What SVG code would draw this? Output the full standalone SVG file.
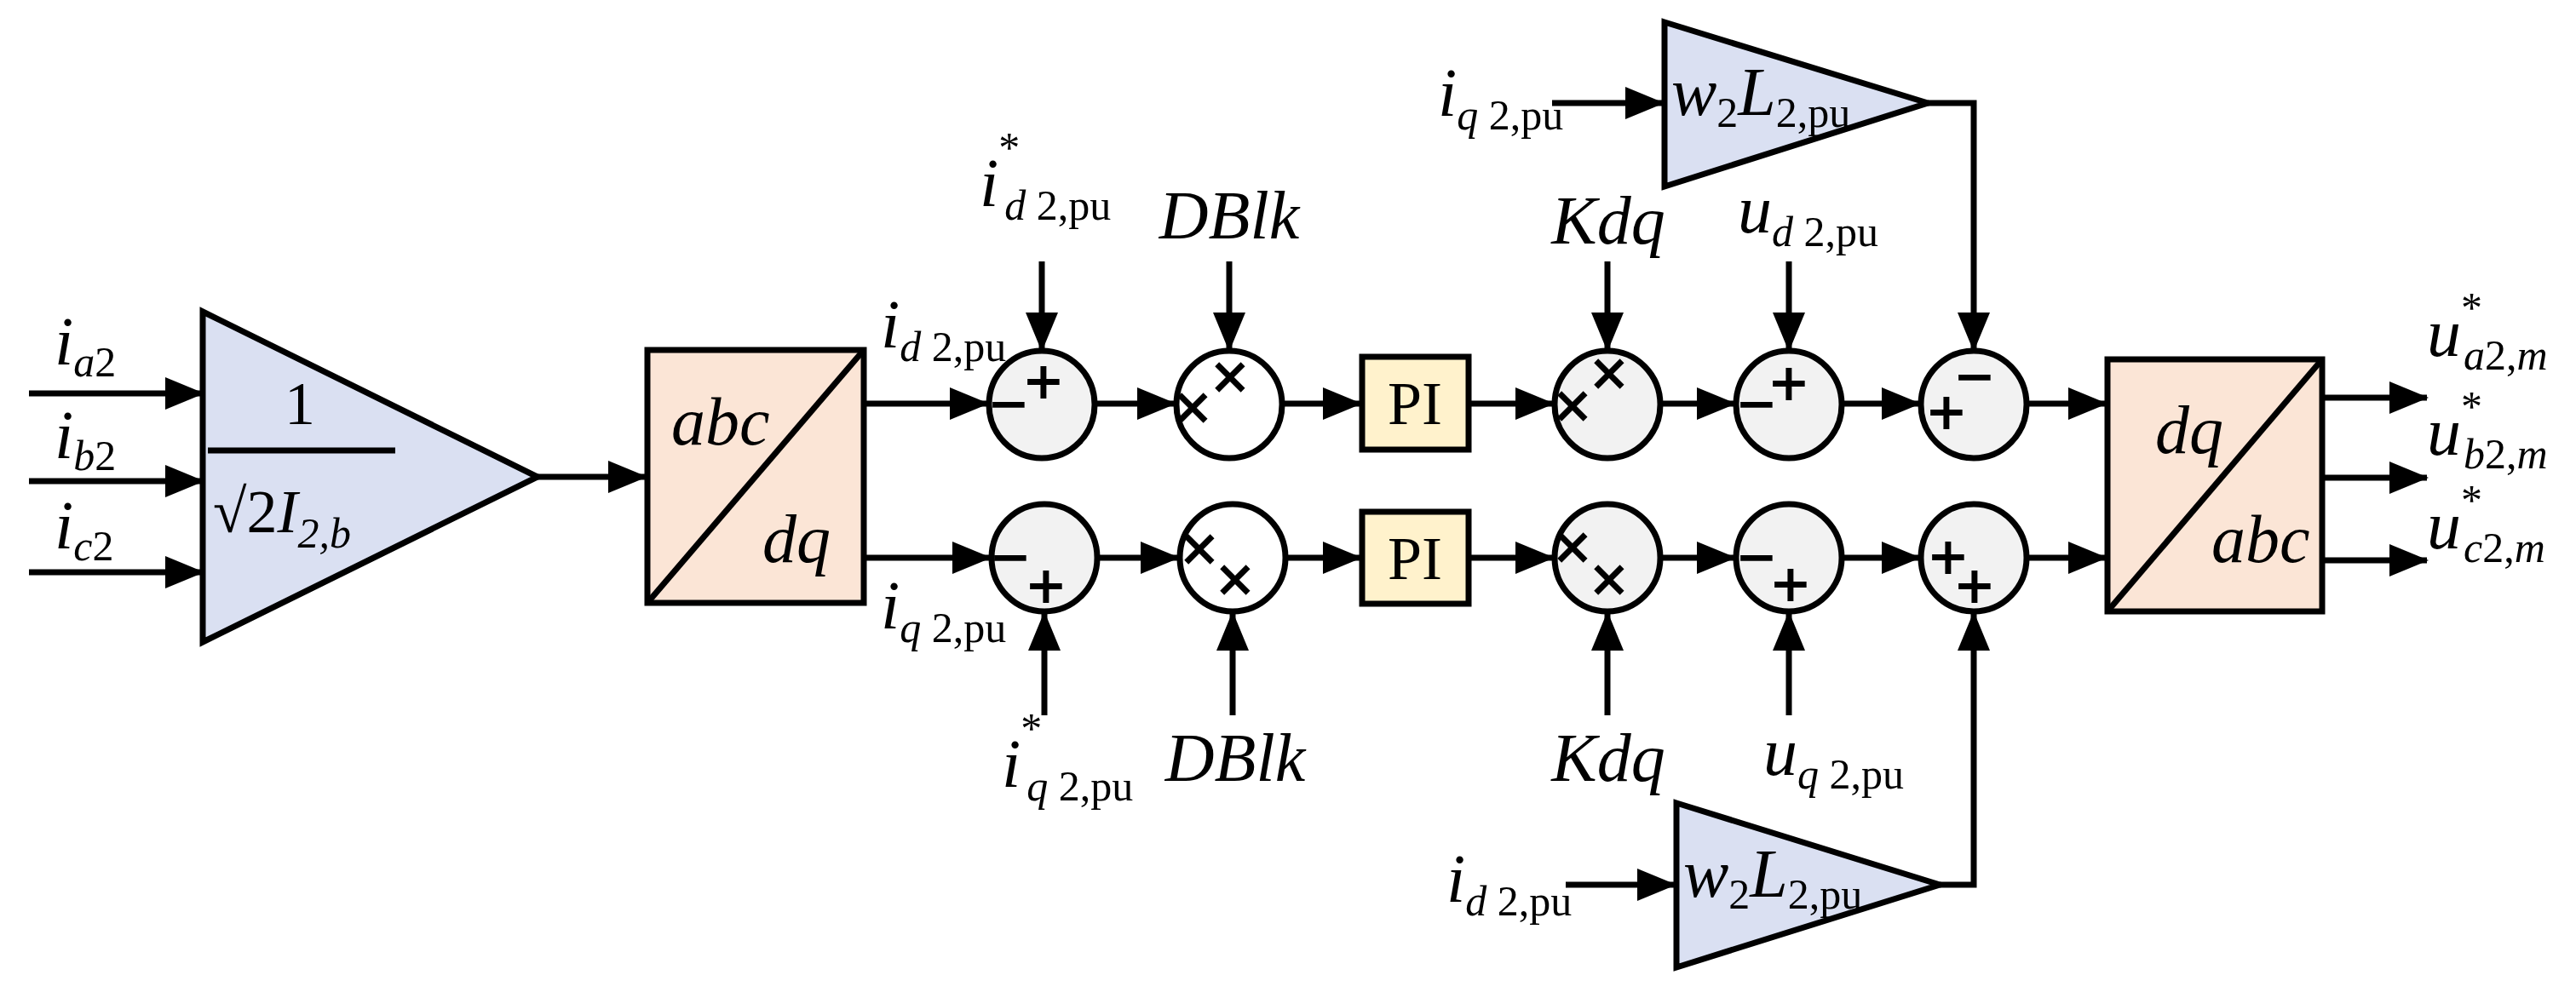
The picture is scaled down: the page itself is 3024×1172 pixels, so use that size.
<svg xmlns="http://www.w3.org/2000/svg" width="3024" height="1172" viewBox="0 0 3024 1172">
<style>
.ln{stroke:#000;stroke-width:7;fill:none}
.ar{stroke:#000;stroke-width:7;fill:none;marker-end:url(#a)}
.sh{stroke:#000;stroke-width:7}
.it{font-family:"Liberation Serif","Times New Roman","DejaVu Serif",serif;font-style:italic;font-size:80px}
.sb{font-size:50px}
.rm{font-style:normal}
.sg{font-family:"DejaVu Sans",sans-serif;font-weight:bold;font-size:60px;text-anchor:middle}
.pi{font-family:"Liberation Serif","Times New Roman","DejaVu Serif",serif;font-size:72px;text-anchor:middle}
</style>
<defs><marker id="a" markerUnits="userSpaceOnUse" markerWidth="46" markerHeight="40" refX="44" refY="19" orient="auto"><path d="M0,0 L46,19 L0,38 z"/></marker></defs>
<rect width="3024" height="1172" fill="#fff"/>
<g id="connectors">
<path class="ar" d="M34,462H238"/><path class="ar" d="M34,565H238"/><path class="ar" d="M34,672H238"/><path class="ar" d="M631,560H758"/>
<path class="ar" d="M1014,474H1159"/><path class="ar" d="M1285,474H1379"/><path class="ar" d="M1505,474H1597"/><path class="ar" d="M1724,474H1823"/><path class="ar" d="M1948,474H2036"/><path class="ar" d="M2162,474H2253"/><path class="ar" d="M2379,474H2472"/>
<path class="ar" d="M1014,655H1162"/><path class="ar" d="M1288,655H1383"/><path class="ar" d="M1509,655H1597"/><path class="ar" d="M1724,655H1823"/><path class="ar" d="M1948,655H2036"/><path class="ar" d="M2162,655H2253"/><path class="ar" d="M2379,655H2472"/>
<path class="ar" d="M1223,307V411"/><path class="ar" d="M1443,307V411"/><path class="ar" d="M1887,307V411"/><path class="ar" d="M2100,307V411"/><path class="ar" d="M2263,121H2317V411"/>
<path class="ar" d="M1226,840V720"/><path class="ar" d="M1447,840V720"/><path class="ar" d="M1887,840V720"/><path class="ar" d="M2100,840V720"/><path class="ar" d="M2277,1039H2317V720"/>
<path class="ar" d="M2726,467H2849"/><path class="ar" d="M2726,561H2849"/><path class="ar" d="M2726,658H2849"/><path class="ar" d="M1822,121H1952"/><path class="ar" d="M1838,1039H1966"/>
</g>
<g id="gain1"><path class="sh" fill="#dae0f2" d="M238,366L631,560L238,754Z"/>
<text class="pi" x="352" y="498" font-size="80">1</text><line class="ln" x1="244" y1="529" x2="464" y2="529"/>
<text class="pi" x="250" y="625" font-size="80" style="text-anchor:start">√2<tspan font-style="italic">I</tspan><tspan font-size="50" font-style="italic" dy="18">2,b</tspan></text></g>
<g id="abcdq"><rect class="sh" fill="#fbe5d6" x="760" y="411" width="254" height="297"/><line class="ln" x1="760" y1="708" x2="1014" y2="411"/>
<text class="it" x="788" y="522" font-size="66">abc</text><text class="it" x="895" y="660" font-size="66">dq</text></g>
<g id="sum1d"><ellipse class="sh" fill="#f2f2f2" cx="1223" cy="475" rx="62" ry="63"/><text class="sg" x="1225" y="468">+</text><text class="sg" x="1184" y="494">−</text></g>
<g id="sum1q"><ellipse class="sh" fill="#f2f2f2" cx="1226" cy="655" rx="62" ry="63"/><text class="sg" x="1186" y="674">−</text><text class="sg" x="1228" y="708">+</text></g>
<g id="mul1d"><ellipse class="sh" fill="#fff" cx="1443" cy="475" rx="62" ry="63"/><text class="sg" x="1400" y="498">×</text><text class="sg" x="1444" y="462">×</text></g>
<g id="mul1q"><ellipse class="sh" fill="#fff" cx="1447" cy="655" rx="62" ry="63"/><text class="sg" x="1408" y="664">×</text><text class="sg" x="1450" y="700">×</text></g>
<g id="pid"><rect class="sh" fill="#fff2cc" x="1599" y="419" width="125" height="109"/><text class="pi" x="1661" y="498">PI</text></g>
<g id="piq"><rect class="sh" fill="#fff2cc" x="1599" y="601" width="125" height="108"/><text class="pi" x="1661" y="680">PI</text></g>
<g id="mul2d"><ellipse class="sh" fill="#f2f2f2" cx="1887" cy="475" rx="62" ry="63"/><text class="sg" x="1846" y="496">×</text><text class="sg" x="1889" y="458">×</text></g>
<g id="mul2q"><ellipse class="sh" fill="#f2f2f2" cx="1887" cy="655" rx="62" ry="63"/><text class="sg" x="1846" y="662">×</text><text class="sg" x="1889" y="700">×</text></g>
<g id="sum2d"><ellipse class="sh" fill="#f2f2f2" cx="2100" cy="475" rx="62" ry="63"/><text class="sg" x="2100" y="470">+</text><text class="sg" x="2062" y="494">−</text></g>
<g id="sum2q"><ellipse class="sh" fill="#f2f2f2" cx="2100" cy="655" rx="62" ry="63"/><text class="sg" x="2062" y="674">−</text><text class="sg" x="2102" y="706">+</text></g>
<g id="sum3d"><ellipse class="sh" fill="#f2f2f2" cx="2317" cy="475" rx="62" ry="63"/><text class="sg" x="2318" y="462">−</text><text class="sg" x="2285" y="504">+</text></g>
<g id="sum3q"><ellipse class="sh" fill="#f2f2f2" cx="2317" cy="655" rx="62" ry="63"/><text class="sg" x="2287" y="674">+</text><text class="sg" x="2318" y="708">+</text></g>
<g id="gain2"><path class="sh" fill="#dae0f2" d="M1954,26L2263,121L1954,219Z"/><text class="it" x="1962" y="135" font-size="70">w<tspan class="sb rm" dy="14">2</tspan><tspan dy="-14">L</tspan><tspan class="sb rm" dy="14">2,pu</tspan></text></g>
<g id="gain3"><path class="sh" fill="#dae0f2" d="M1968,943L2277,1039L1968,1136Z"/><text class="it" x="1976" y="1053" font-size="70">w<tspan class="sb rm" dy="14">2</tspan><tspan dy="-14">L</tspan><tspan class="sb rm" dy="14">2,pu</tspan></text></g>
<g id="dqabc"><rect class="sh" fill="#fbe5d6" x="2474" y="422" width="252" height="296"/><line class="ln" x1="2474" y1="718" x2="2726" y2="422"/>
<text class="it" x="2530" y="532" font-size="66">dq</text><text class="it" x="2596" y="660" font-size="66">abc</text></g>
<g id="labels">
<text class="it" x="64" y="428">i<tspan class="sb" dy="14">a</tspan><tspan class="sb rm">2</tspan></text>
<text class="it" x="64" y="538">i<tspan class="sb" dy="14">b</tspan><tspan class="sb rm">2</tspan></text>
<text class="it" x="64" y="644">i<tspan class="sb" dy="14">c</tspan><tspan class="sb rm">2</tspan></text>
<text class="it" x="1034" y="408">i<tspan class="sb" dy="16">d</tspan><tspan class="sb rm"> 2,pu</tspan></text>
<text class="it" x="1034" y="738">i<tspan class="sb" dy="16">q</tspan><tspan class="sb rm"> 2,pu</tspan></text>
<text class="it" x="1150" y="242">i<tspan class="sb rm" dy="-52">*</tspan><tspan class="sb" dx="-18" dy="68">d</tspan><tspan class="sb rm"> 2,pu</tspan></text>
<text class="it" x="1176" y="924">i<tspan class="sb rm" dy="-52">*</tspan><tspan class="sb" dx="-18" dy="68">q</tspan><tspan class="sb rm"> 2,pu</tspan></text>
<text class="it" x="1443" y="280" font-size="66" text-anchor="middle">DBlk</text>
<text class="it" x="1450" y="917" font-size="66" text-anchor="middle">DBlk</text>
<text class="it" x="1888" y="286" font-size="66" text-anchor="middle">Kdq</text>
<text class="it" x="1888" y="917" font-size="66" text-anchor="middle">Kdq</text>
<text class="it" x="2040" y="273">u<tspan class="sb" dy="16">d</tspan><tspan class="sb rm"> 2,pu</tspan></text>
<text class="it" x="2070" y="910">u<tspan class="sb" dy="16">q</tspan><tspan class="sb rm"> 2,pu</tspan></text>
<text class="it" x="1688" y="136">i<tspan class="sb" dy="16">q</tspan><tspan class="sb rm"> 2,pu</tspan></text>
<text class="it" x="1698" y="1059">i<tspan class="sb" dy="16">d</tspan><tspan class="sb rm"> 2,pu</tspan></text>
<text class="it" x="2849" y="418">u<tspan class="sb rm" dy="-40">*</tspan><tspan class="sb" dx="-22" dy="56">a</tspan><tspan class="sb rm">2,</tspan><tspan class="sb">m</tspan></text>
<text class="it" x="2849" y="534">u<tspan class="sb rm" dy="-40">*</tspan><tspan class="sb" dx="-22" dy="56">b</tspan><tspan class="sb rm">2,</tspan><tspan class="sb">m</tspan></text>
<text class="it" x="2849" y="644">u<tspan class="sb rm" dy="-40">*</tspan><tspan class="sb" dx="-22" dy="56">c</tspan><tspan class="sb rm">2,</tspan><tspan class="sb">m</tspan></text>
</g>
</svg>
